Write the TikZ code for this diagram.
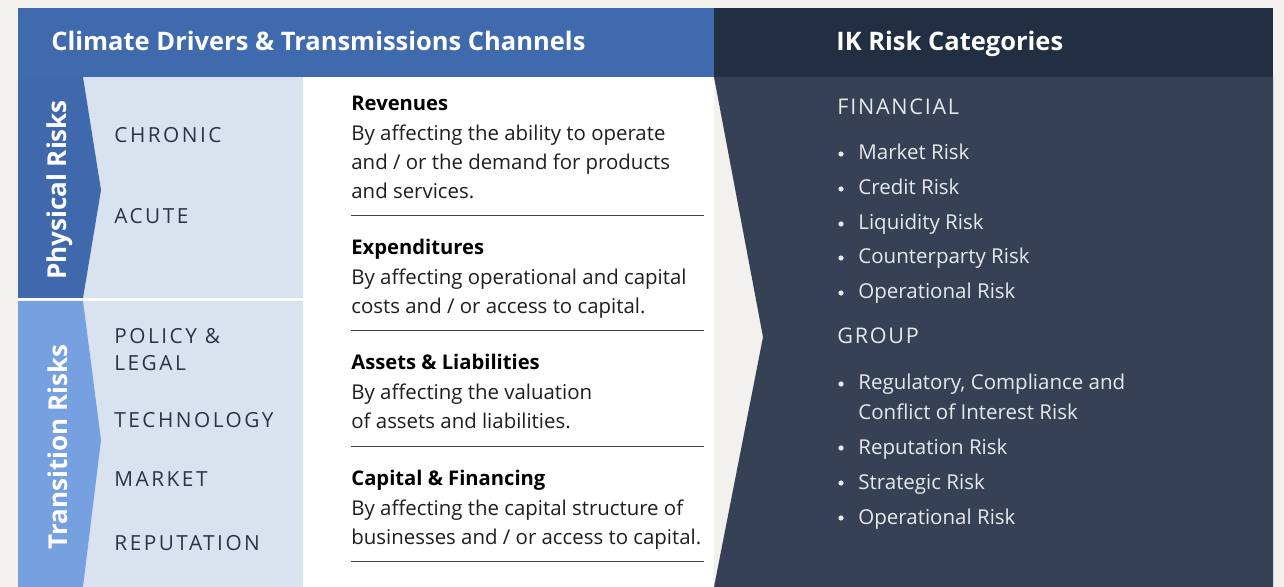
\documentclass[tikz,border=0pt]{standalone}
\usepackage{fontspec}
\setmainfont{Open Sans}
\usetikzlibrary{positioning}

\definecolor{pagebg}{HTML}{F2F1EE}
\definecolor{headblue}{HTML}{3F6AAE}
\definecolor{headdark}{HTML}{222E42}
\definecolor{panel}{HTML}{374155}
\definecolor{physblue}{HTML}{3F69AC}
\definecolor{transblue}{HTML}{76A0E0}
\definecolor{lightfill}{HTML}{D9E3EF}
\definecolor{labeltext}{HTML}{2B3444}
\definecolor{bodytext}{HTML}{1E1E1E}
\definecolor{itemtext}{HTML}{E6E8EC}

\tikzset{
  title/.style={anchor=base west, inner sep=0pt, text=white, font=\fontsize{12.75}{15}\selectfont\bfseries},
  sidetitle/.style={rotate=90, anchor=base, inner sep=0pt, text=white, font=\fontsize{13}{15}\selectfont\bfseries},
  driver/.style={anchor=base west, inner sep=0pt, text=labeltext, font=\fontsize{10.4}{12}\selectfont\addfontfeature{LetterSpace=12}},
  chanhead/.style={anchor=base west, inner sep=0pt, text=black, font=\fontsize{10.1}{12}\selectfont\bfseries},
  chanbody/.style={anchor=base west, inner sep=0pt, text=bodytext, font=\fontsize{10.2}{12}\selectfont},
  cathead/.style={anchor=base west, inner sep=0pt, text=itemtext, font=\fontsize{10.8}{12}\selectfont\addfontfeature{LetterSpace=8}},
  catitem/.style={anchor=base west, inner sep=0pt, text=itemtext, font=\fontsize{10.25}{12}\selectfont},
  sepline/.style={draw=black!75, line width=0.5pt}
}

\begin{document}
\begin{tikzpicture}[x=0.5pt, y=-0.5pt]
% background and frame
\fill[pagebg] (0,0) rectangle (1284,587);
\useasboundingbox (0,0) rectangle (1284,587);
\fill[headblue] (18,8) rectangle (714,77);
\fill[headdark] (714,8) rectangle (1273,77);
\fill[lightfill] (18,77) rectangle (303,298);
\fill[white] (18,298) rectangle (303,301);
\fill[lightfill] (18,301) rectangle (303,587);
\fill[white] (303,77) rectangle (714,587);
% chevrons
\fill[physblue] (18,77) -- (83,77) -- (101,190) -- (83,298) -- (18,298) -- cycle;
\fill[transblue] (18,301) -- (83,301) -- (101,440) -- (83,587) -- (18,587) -- cycle;
\fill[panel] (714,77) -- (1273,77) -- (1273,587) -- (714,587) -- (763,337) -- cycle;

% headers
\node[title] (drivers) at (51,51) {Climate Drivers \& Transmissions Channels};
\node[title] (ikcats) at (836,51) {IK Risk Categories};
\node[sidetitle] (physical) at (66,190) {Physical Risks};
\node[sidetitle] (transition) at (67,447) {Transition Risks};

% drivers
\node[driver] (chronic) at (114,143) {CHRONIC};
\node[driver] (acute) at (114,224) {ACUTE};
\node[driver] (policy) at (114,344) {POLICY \&};
\node[driver] (legal) at (114,371) {LEGAL};
\node[driver] (technology) at (114,428) {TECHNOLOGY};
\node[driver] (market) at (114,486) {MARKET};
\node[driver] (reputation) at (114,550) {REPUTATION};

% transmission channels
\node[chanhead] (revenues) at (351,111) {Revenues};
\node[chanbody] (rev1) at (351,141) {By affecting the ability to operate};
\node[chanbody] (rev2) at (351,170) {and / or the demand for products};
\node[chanbody] (rev3) at (351,199) {and services.};
\draw[sepline] (351,216) -- (704,216);
\node[chanhead] (expenditures) at (351,255) {Expenditures};
\node[chanbody] (exp1) at (351,285) {By affecting operational and capital};
\node[chanbody] (exp2) at (351,314) {costs and / or access to capital.};
\draw[sepline] (351,331) -- (704,331);
\node[chanhead] (assets) at (351,370) {Assets \& Liabilities};
\node[chanbody] (ass1) at (351,400) {By affecting the valuation};
\node[chanbody] (ass2) at (351,429) {of assets and liabilities.};
\draw[sepline] (351,446) -- (704,446);
\node[chanhead] (capital) at (351,485) {Capital \& Financing};
\node[chanbody] (cap1) at (351,515) {By affecting the capital structure of};
\node[chanbody] (cap2) at (351,544) {businesses and / or access to capital.};
\draw[sepline] (351,561) -- (704,561);

% risk categories
\node[cathead] (financial) at (837,115) {FINANCIAL};
\foreach \name/\y/\txt in {fin1/160/Market Risk, fin2/195/Credit Risk, fin3/230/Liquidity Risk,
    fin4/264/Counterparty Risk, fin5/299/Operational Risk} {
  \fill[itemtext] (841,\y-6) circle[radius=1.3pt];
  \node[catitem] (\name) at (858,\y) {\txt};
}
\node[cathead] (group) at (837,344) {GROUP};
\fill[itemtext] (841,384) circle[radius=1.3pt];
\node[catitem] (grp1) at (858,390) {Regulatory, Compliance and};
\node[catitem] (grp1b) at (858,419) {Conflict of Interest Risk};
\foreach \name/\y/\txt in {grp2/454/Reputation Risk, grp3/489/Strategic Risk, grp4/524/Operational Risk} {
  \fill[itemtext] (841,\y-6) circle[radius=1.3pt];
  \node[catitem] (\name) at (858,\y) {\txt};
}
\end{tikzpicture}
\end{document}
